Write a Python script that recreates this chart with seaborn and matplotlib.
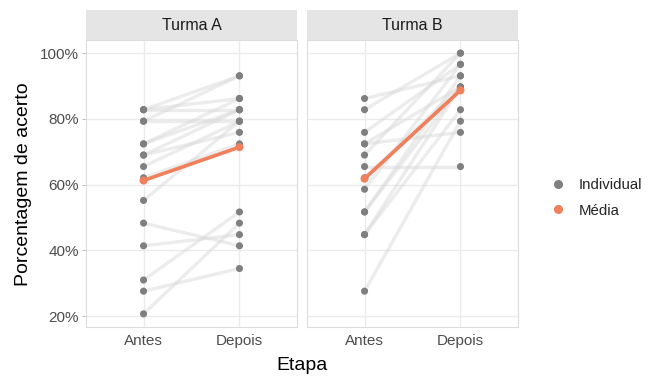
import matplotlib
matplotlib.use("Agg")
import matplotlib.pyplot as plt
from matplotlib.lines import Line2D
import pandas as pd
import seaborn as sns

# percentual de acerto de cada aluno, pareado por posicao (antes -> depois)
turma_a_antes = [82.8, 82.8, 82.8, 79.3, 79.3, 72.4, 72.4, 69.0, 69.0, 65.5, 62.1, 55.2,
                 48.3, 41.4, 31.0, 27.6, 20.7]
turma_a_depois = [82.8, 93.1, 86.2, 79.3, 93.1, 86.2, 82.8, 82.8, 75.9, 79.3, 72.4, 79.3,
                  41.4, 44.8, 51.7, 34.5, 48.3]
turma_b_antes = [86.2, 82.8, 75.9, 72.4, 72.4, 69.0, 65.5, 62.1, 58.6, 51.7, 51.7, 44.8,
                 44.8, 27.6]
turma_b_depois = [93.1, 100.0, 96.6, 75.9, 89.7, 100.0, 65.5, 89.7, 96.6, 89.7, 93.1, 89.7,
                  82.8, 79.3]

etapas = ["Antes", "Depois"]
turmas = ["Turma A", "Turma B"]
y_ticks = [20, 40, 60, 80, 100]

rows = []
for turma, antes, depois in [("Turma A", turma_a_antes, turma_a_depois),
                             ("Turma B", turma_b_antes, turma_b_depois)]:
    for i, (a, d) in enumerate(zip(antes, depois)):
        rows.append({"turma": turma, "aluno": i, "Etapa": "Antes", "pct": a})
        rows.append({"turma": turma, "aluno": i, "Etapa": "Depois", "pct": d})
df = pd.DataFrame(rows)
df["Etapa"] = pd.Categorical(df["Etapa"], categories=etapas, ordered=True)
df["x"] = df["Etapa"].cat.codes

sns.set_style("white")
plt.rcParams["font.family"] = ["Liberation Sans", "DejaVu Sans"]

W, H = 651, 376
fig = plt.figure(figsize=(W / 100, H / 100), dpi=100)

panel_px = [(86, 297), (307, 518)]
top_px, bot_px, strip_px = 40, 327, 30
grid_c = "#ebebeb"
point_c = "#7f7f7f"
media_c = "#f07f5c"

for k, turma in enumerate(turmas):
    x0, x1 = panel_px[k]
    ax = fig.add_axes([x0 / W, 1 - bot_px / H, (x1 - x0) / W, (bot_px - top_px) / H])
    sub = df[df["turma"] == turma]

    # uma linha por aluno
    sns.lineplot(data=sub, x="x", y="pct", units="aluno", estimator=None,
                 color="#d6d6d6", alpha=0.45, linewidth=2.4, ax=ax, legend=False)
    sns.scatterplot(data=sub, x="x", y="pct", color=point_c, s=26,
                    edgecolor="none", ax=ax, legend=False, zorder=3)
    # media da turma
    media = sub.groupby("x", as_index=False)["pct"].mean()
    sns.lineplot(data=media, x="x", y="pct", color=media_c, linewidth=2.6,
                 ax=ax, legend=False, zorder=4)
    sns.scatterplot(data=media, x="x", y="pct", color=media_c, s=34,
                    edgecolor="none", ax=ax, legend=False, zorder=5)

    ax.set_xlim(-0.6, 1.6)
    ax.set_ylim(16.7, 104.0)
    ax.set_xticks([0, 1])
    ax.set_xticklabels(etapas)
    ax.set_yticks(y_ticks)
    ax.set_yticklabels([f"{v}%" for v in y_ticks] if k == 0 else [])
    ax.grid(True, color=grid_c, linewidth=1.0)
    ax.set_axisbelow(True)
    ax.set_xlabel("")
    ax.set_ylabel("")
    ax.tick_params(axis="both", colors="#b3b3b3", length=3, width=0.6,
                   labelcolor="#4d4d4d", labelsize=11, pad=2)
    ax.tick_params(axis="y", left=(k == 0))
    for sp in ax.spines.values():
        sp.set_color("#dcdcdc")
        sp.set_linewidth(0.8)

    strip = fig.add_axes([x0 / W, 1 - top_px / H, (x1 - x0) / W, strip_px / H])
    strip.set_facecolor("#e5e5e5")
    strip.set_xticks([])
    strip.set_yticks([])
    for sp in strip.spines.values():
        sp.set_visible(False)
    strip.text(0.5, 0.5, turma, ha="center", va="center", fontsize=11.5,
               color="#1a1a1a", transform=strip.transAxes)

fig.text(302 / W, 1 - 366 / H, "Etapa", ha="center", va="center", fontsize=14, color="black")
fig.text(24 / W, 1 - 184 / H, "Porcentagem de acerto", ha="center", va="center",
         rotation=90, fontsize=14, color="black")

handles = [
    Line2D([], [], marker="o", linestyle="none", color=point_c, markersize=5.5),
    Line2D([], [], marker="o", linestyle="none", color=media_c, markersize=5.5),
]
fig.legend(handles, ["Individual", "Média"], loc="center left",
           bbox_to_anchor=(550 / W, 1 - 198 / H), frameon=False, fontsize=10.8,
           borderpad=0, borderaxespad=0, handletextpad=0.9, labelspacing=0.75,
           handlelength=1.0)

fig.savefig("out.png", dpi=100, facecolor="white")
